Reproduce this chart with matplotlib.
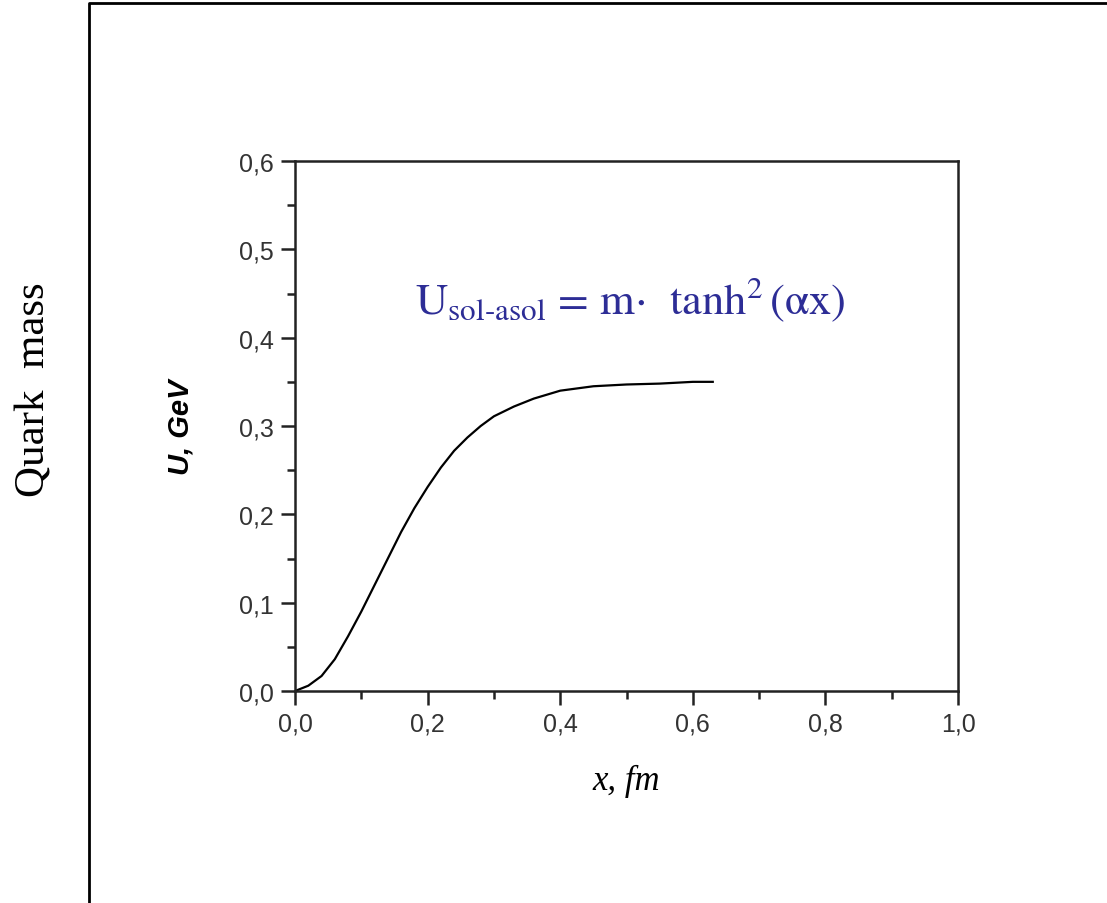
import matplotlib.pyplot as plt
from matplotlib.lines import Line2D
from matplotlib.ticker import MultipleLocator, FixedLocator, FixedFormatter

plt.rcParams['mathtext.fontset'] = 'stix'

# curve
x_fm = [0.0, 0.02, 0.04, 0.06, 0.08, 0.10, 0.12, 0.14, 0.16, 0.18, 0.20, 0.22,
        0.24, 0.26, 0.28, 0.30, 0.33, 0.36, 0.40, 0.45, 0.50, 0.55, 0.60, 0.63]
u_gev = [0.0, 0.006, 0.017, 0.036, 0.062, 0.090, 0.120, 0.150, 0.180, 0.207, 0.231, 0.253,
         0.272, 0.287, 0.300, 0.311, 0.322, 0.331, 0.340, 0.345, 0.347, 0.348, 0.350, 0.350]

x_ticks = [0.0, 0.2, 0.4, 0.6, 0.8, 1.0]
x_labels = ['0,0', '0,2', '0,4', '0,6', '0,8', '1,0']
y_ticks = [0.0, 0.1, 0.2, 0.3, 0.4, 0.5, 0.6]
y_labels = ['0,0', '0,1', '0,2', '0,3', '0,4', '0,5', '0,6']

fig = plt.figure(figsize=(11.07, 9.04), dpi=100)
ax = fig.add_axes([0.2665, 0.2345, 0.599, 0.5863])

ax.plot(x_fm, u_gev, color='black', lw=1.6)
ax.set_xlim(0, 1.0)
ax.set_ylim(0, 0.6)

ax.xaxis.set_major_locator(FixedLocator(x_ticks))
ax.xaxis.set_major_formatter(FixedFormatter(x_labels))
ax.yaxis.set_major_locator(FixedLocator(y_ticks))
ax.yaxis.set_major_formatter(FixedFormatter(y_labels))
ax.xaxis.set_minor_locator(MultipleLocator(0.1))
ax.yaxis.set_minor_locator(MultipleLocator(0.05))

for s in ax.spines.values():
    s.set_linewidth(1.8)
    s.set_color('#222222')
ax.tick_params(which='major', direction='out', length=10, width=1.8, color='#222222',
               labelsize=18, labelcolor='#333333', pad=5)
ax.tick_params(which='minor', direction='out', length=6, width=1.8, color='#222222')
ax.tick_params(top=False, right=False, which='both')
for lab in ax.get_xticklabels() + ax.get_yticklabels():
    lab.set_family('Liberation Sans')

ax.set_ylabel('U, GeV', fontsize=21, fontweight='bold', fontstyle='italic',
              family='Liberation Sans', labelpad=32)
ax.set_xlabel('x, fm', fontsize=25, fontstyle='italic', family='Liberation Serif',
              labelpad=20)

ax.text(0.505, 0.74, r'$\mathrm{U_{sol\text{-}asol}}$ = m$\cdot$  tanh$^2\,$($\mathrm{\alpha}$x)',
        transform=ax.transAxes, ha='center', va='center', fontsize=32,
        color='#2d2d96', family='STIXGeneral')

fig.text(0.031, 0.569, 'Quark  mass', rotation=90, ha='center', va='center',
         fontsize=31, family='Liberation Serif')

# outer frame (left and top edges)
fig.add_artist(Line2D([0.0805, 0.0805, 1.0], [0.0, 0.9955, 0.9955],
                      transform=fig.transFigure, color='black', lw=2))

fig.savefig('out.png', dpi=100, facecolor='white')
